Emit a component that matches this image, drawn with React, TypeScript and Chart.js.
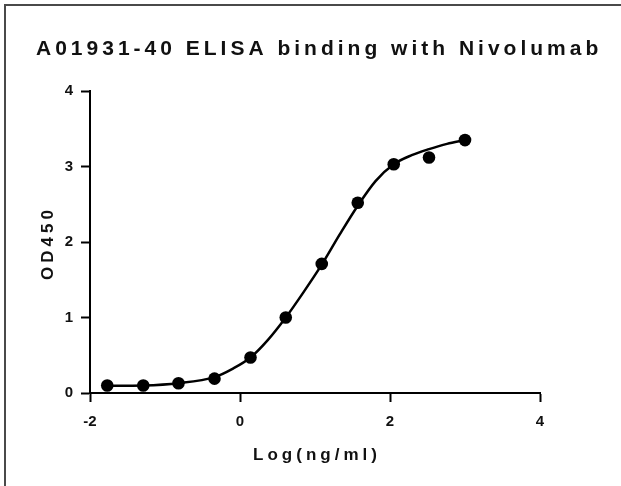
import React, { useEffect, useRef } from "react";
import { Chart, registerables } from "chart.js";

Chart.register(...registerables);

// ---- data ----
const TITLE = "A01931-40 ELISA binding with Nivolumab";
const X_TITLE = "Log(ng/ml)";
const Y_TITLE = "OD450";

const logConc = [-1.77, -1.29, -0.82, -0.34, 0.14, 0.61, 1.09, 1.57, 2.05, 2.52, 3.0];
const od450 = [0.1, 0.1, 0.13, 0.19, 0.47, 1.0, 1.71, 2.52, 3.03, 3.12, 3.35];

// fitted curve, values
const fitX = [-1.77, -1.29, -0.82, -0.34, -0.1, 0.14, 0.37, 0.61, 0.85, 1.09, 1.33, 1.57, 1.81, 2.05, 2.29, 2.52, 2.76, 3.0];
const fitY = [0.095, 0.1, 0.13, 0.21, 0.32, 0.47, 0.7, 1.0, 1.34, 1.7, 2.1, 2.48, 2.81, 3.03, 3.15, 3.23, 3.3, 3.35];

const xTicks = [-2, 0, 2, 4];
const yTicks = [0, 1, 2, 3, 4];

const FONT = "'Liberation Sans', Arial, Helvetica, sans-serif";

const spacedTextPlugin = {
  id: "spacedText",
  afterDraw(chart: any) {
    const ctx = chart.ctx as CanvasRenderingContext2D;
    const { left, right, top, bottom } = chart.chartArea;
    ctx.save();
    ctx.fillStyle = "#111";
    ctx.textBaseline = "alphabetic";
    ctx.textAlign = "left";
    // main title
    (ctx as any).letterSpacing = "4px";
    ctx.font = `bold 21px ${FONT}`;
    ctx.fillText(TITLE, left - 54, top - 36);
    // x title
    ctx.font = `bold 17px ${FONT}`;
    (ctx as any).letterSpacing = "4px";
    const xw = ctx.measureText(X_TITLE).width - 4;
    ctx.fillText(X_TITLE, (left + right) / 2 - xw / 2, bottom + 67);
    // y title
    const yw = ctx.measureText(Y_TITLE).width - 4;
    ctx.translate(left - 37, (top + bottom) / 2 + yw / 2 + 3);
    ctx.rotate(-Math.PI / 2);
    ctx.fillText(Y_TITLE, 0, 0);
    ctx.restore();
  },
};

export default function App() {
  const canvasRef = useRef<HTMLCanvasElement | null>(null);

  useEffect(() => {
    document.body.style.margin = "0";
    const canvas = canvasRef.current;
    if (!canvas) return;

    const tickFont = { family: FONT, size: 15, weight: "bold" as const };

    const chart = new Chart(canvas, {
      type: "scatter",
      data: {
        datasets: [
          {
            label: "OD450",
            data: logConc.map((x, i) => ({ x, y: od450[i] })),
            pointRadius: 6.3,
            pointHoverRadius: 6.3,
            backgroundColor: "#000",
            borderColor: "#000",
            borderWidth: 0,
            showLine: false,
          },
          {
            label: "fit",
            data: fitX.map((x, i) => ({ x, y: fitY[i] })),
            showLine: true,
            pointRadius: 0,
            borderColor: "#000",
            borderWidth: 2.5,
            cubicInterpolationMode: "monotone",
            fill: false,
          },
        ],
      },
      options: {
        responsive: false,
        animation: false,
        layout: { padding: { top: 91, right: 81, left: 0, bottom: 0 } },
        plugins: {
          legend: { display: false },
          tooltip: { enabled: false },
          title: { display: false },
        },
        scales: {
          x: {
            type: "linear",
            min: -2,
            max: 4,
            afterBuildTicks: (s: any) => {
              s.ticks = xTicks.map((v) => ({ value: v }));
            },
            afterFit: (s: any) => {
              s.height = 93;
            },
            grid: {
              drawOnChartArea: false,
              drawTicks: true,
              tickLength: 9,
              tickWidth: 2,
              color: "#000",
            },
            border: { display: true, color: "#000", width: 2 },
            ticks: { font: tickFont, color: "#111", padding: 11, maxRotation: 0 },
          },
          y: {
            type: "linear",
            min: 0,
            max: 4,
            afterBuildTicks: (s: any) => {
              s.ticks = yTicks.map((v) => ({ value: v }));
            },
            afterFit: (s: any) => {
              s.width = 90;
            },
            grid: {
              drawOnChartArea: false,
              drawTicks: true,
              tickLength: 9,
              tickWidth: 2,
              color: "#000",
            },
            border: { display: true, color: "#000", width: 2 },
            ticks: { font: tickFont, color: "#111", padding: 8 },
          },
        },
      },
      plugins: [spacedTextPlugin],
    });

    return () => chart.destroy();
  }, []);

  return (
    <div
      style={{
        position: "relative",
        width: 621,
        height: 486,
        overflow: "hidden",
        background: "#fff",
      }}
    >
      <div
        style={{
          position: "absolute",
          left: 4,
          top: 4,
          width: 700,
          height: 600,
          borderLeft: "2px solid #4a4a4a",
          borderTop: "2px solid #4a4a4a",
          boxSizing: "border-box",
        }}
      />
      <canvas
        ref={canvasRef}
        width={621}
        height={486}
        style={{ position: "absolute", left: 0, top: 0, width: 621, height: 486 }}
      />
    </div>
  );
}
